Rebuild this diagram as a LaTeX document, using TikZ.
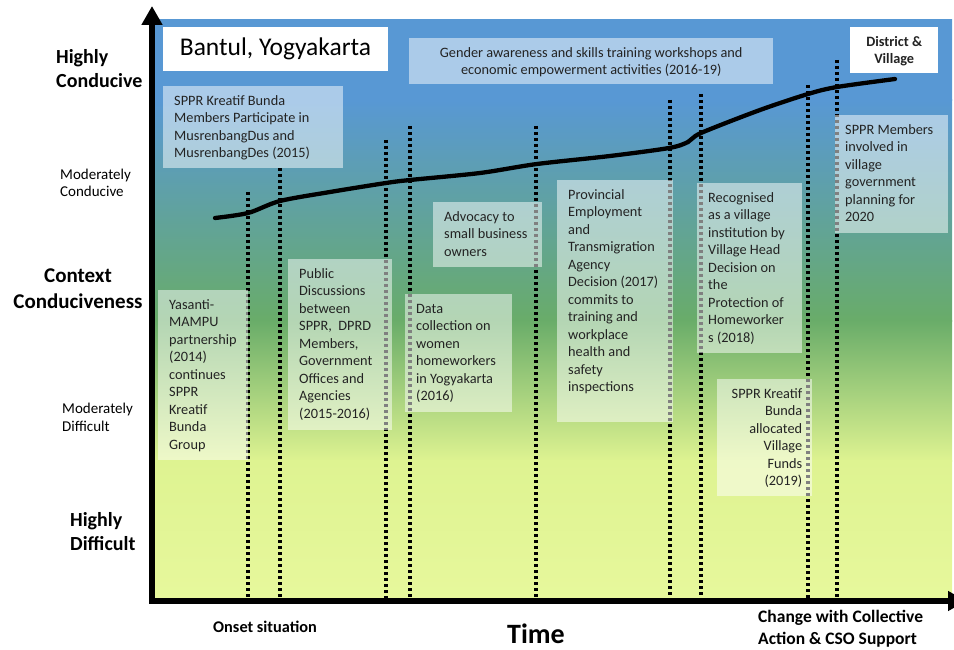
\documentclass[tikz,border=0pt]{standalone}
\usepackage{fontspec}
\setmainfont{Carlito}
\usetikzlibrary{arrows.meta}
\definecolor{bgblue}{RGB}{88,152,212}
\definecolor{bggreen}{RGB}{105,172,105}
\definecolor{bgyellow}{RGB}{222,243,145}
\definecolor{bgyellowb}{RGB}{231,248,156}
\definecolor{txt}{RGB}{35,35,35}
\newcommand\evb[4][\raggedright]{\parbox[t][#3][t]{#2}{#1\rule{0pt}{19pt}#4}}
\begin{document}
\begin{tikzpicture}[x=1pt,y=-1pt,
  evbox/.style={fill=white, fill opacity=0.5, text opacity=1, anchor=north west,
    inner xsep=11pt, inner ysep=0pt, text=txt, font=\fontsize{14.3}{17.5}\selectfont},
  dots/.style={line width=3.8pt, dash pattern=on 3.3pt off 2.7pt},
  axlabel/.style={inner sep=0pt, text=black},
  axis/.style={line width=5.5pt, line join=miter},
]
\useasboundingbox (0,0) rectangle (954,650);
\clip (0,0) rectangle (954,650);
% background gradient
\shade[top color=bgblue, bottom color=bgblue] (152,20) rectangle (952,101);
\shade[top color=bgblue, bottom color=bggreen] (152,100) rectangle (952,321);
\shade[top color=bggreen, bottom color=bgyellow] (152,320) rectangle (952,461);
\shade[top color=bgyellow, bottom color=bgyellowb] (152,460) rectangle (952,601);
% dotted time markers
\foreach \x/\t [count=\i] in {248/192,280/168,386/140,410/126,536/126,670/100,701/94,808/85,837/60}{
  \coordinate (dt\i) at (\x,\t);
  \coordinate (db\i) at (\x,599);
  \draw[dots] (dt\i) -- (db\i);
}
% axes
\coordinate (ytip) at (152,6);
\coordinate (corner) at (152,601);
\coordinate (xtip) at (966,601);
\draw[axis, arrows={Triangle[width=20pt,length=19pt]-Triangle[width=19pt,length=18pt]}] (ytip) -- (corner) -- (xtip);
% title boxes
\node[fill=white, inner sep=0pt, minimum width=225pt, minimum height=44pt,
  font=\fontsize{25.5}{30}\selectfont] (bantul) at (275.5,49) {Bantul, Yogyakarta};
\node[evbox, fill opacity=1, font=\bfseries\fontsize{14.3}{17.5}\selectfont] (district) at (850,27)
  {\evb[\centering]{66pt}{46pt}{District \&\\Village}};
\node[evbox] (gender) at (409,38)
  {\evb[\centering]{342pt}{46pt}{Gender awareness and skills training workshops and\\economic empowerment activities (2016-19)}};
% event boxes
\node[evbox] (musren) at (163,86)
  {\evb{158pt}{82pt}{SPPR Kreatif Bunda\\Members Participate in\\MusrenbangDus and\\MusrenbangDes (2015)}};
\node[evbox] (yasanti) at (158,290)
  {\evb{68pt}{170pt}{Yasanti-\\MAMPU\\partnership\\(2014)\\continues\\SPPR\\Kreatif\\Bunda\\Group}};
\node[evbox] (public) at (288,259)
  {\evb{82pt}{171pt}{Public\\Discussions\\between\\SPPR,\ \ DPRD\\Members,\\Government\\Offices and\\Agencies\\(2015-2016)}};
\node[evbox] (data) at (405,294)
  {\evb{85pt}{118pt}{Data\\collection on\\women\\homeworkers\\in Yogyakarta\\(2016)}};
\node[evbox] (advocacy) at (433,202)
  {\evb{87pt}{65pt}{Advocacy to\\small business\\owners}};
\node[evbox] (provincial) at (557,180)
  {\evb{94pt}{242pt}{Provincial\\Employment\\and\\Transmigration\\Agency\\Decision (2017)\\commits to\\training and\\workplace\\health and\\safety\\inspections}};
\node[evbox] (recognised) at (697,183)
  {\evb{83pt}{170pt}{Recognised\\as a village\\institution by\\Village Head\\Decision on\\the\\Protection of\\Homeworker\\s (2018)}};
\node[evbox, inner xsep=10pt] (funds) at (717,379)
  {\evb[\raggedleft]{75pt}{117pt}{SPPR Kreatif\\Bunda\\allocated\\Village\\Funds\\(2019)}};
\node[evbox, inner xsep=10pt] (planning) at (835,115)
  {\evb{93pt}{118pt}{SPPR Members\\involved in\\village\\government\\planning for\\2020}};
% trajectory
\draw[line width=4.3pt, line cap=round] plot[smooth, tension=0.5] coordinates
  {(215,218) (248,213) (280,201) (330,192) (386,183) (410,180) (480,173) (537,164) (610,156) (669,148) (688,142) (701,133) (760,110) (808,94) (837,87) (895,79)};
% axis labels
\node[axlabel, anchor=west, align=left, font=\bfseries\fontsize{20}{24}\selectfont] (hc) at (56,69) {Highly\\Conducive};
\node[axlabel, anchor=west, align=left, font=\fontsize{15}{16.5}\selectfont] (mc) at (60,183) {Moderately\\Conducive};
\node[axlabel, align=center, font=\bfseries\fontsize{21}{26}\selectfont] (cc) at (78,289) {Context\\Conduciveness};
\node[axlabel, anchor=west, align=left, font=\fontsize{15}{18}\selectfont] (md) at (62,417) {Moderately\\Difficult};
\node[axlabel, anchor=west, align=left, font=\bfseries\fontsize{20}{24}\selectfont] (hd) at (70,532) {Highly\\Difficult};
\node[axlabel, anchor=base, font=\bfseries\fontsize{16.3}{20}\selectfont] (onset) at (265,632) {Onset situation};
\node[axlabel, anchor=base, font=\bfseries\fontsize{28}{32}\selectfont] (time) at (536,643) {Time};
\node[axlabel, anchor=west, align=left, font=\bfseries\fontsize{17.5}{22}\selectfont] (change) at (758,629) {Change with Collective\\Action \& CSO Support};
\end{tikzpicture}
\end{document}
